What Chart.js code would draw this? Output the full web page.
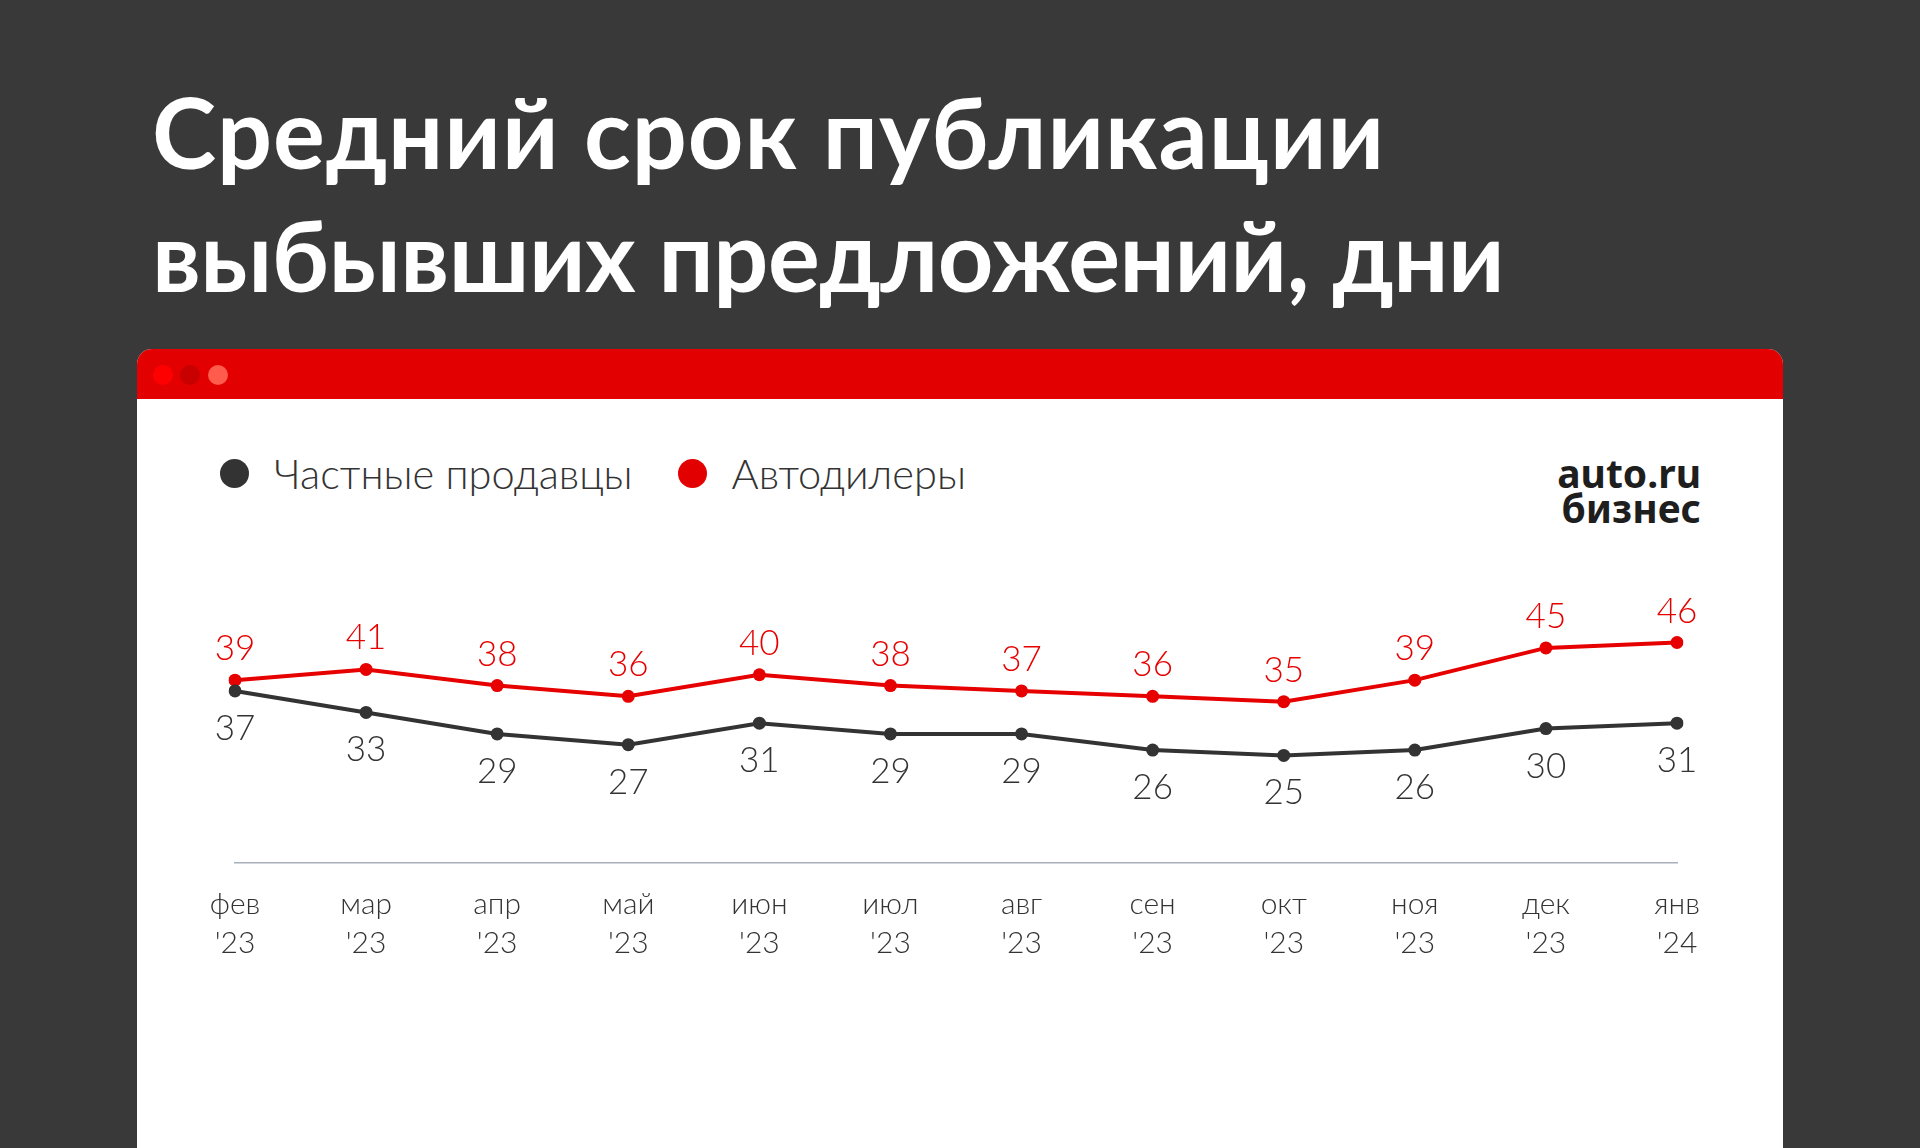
<!DOCTYPE html>
<html lang="ru">
<head>
<meta charset="utf-8">
<title>Средний срок публикации выбывших предложений, дни</title>
<script src="https://cdn.jsdelivr.net/npm/chart.js@4.4.1/dist/chart.umd.min.js"></script>
<style>
  html, body { margin: 0; padding: 0; }
  body {
    width: 1920px; height: 1148px; overflow: hidden; position: relative;
    background: #393939; font-family: Lato, "Noto Sans", sans-serif;
  }
  .title {
    position: absolute; left: 152px; top: 70px; margin: 0;
    color: #fff; font: 700 97px/123px Lato, sans-serif; white-space: nowrap;
  }
  .title span { display: block; }
  .card {
    position: absolute; left: 137px; top: 349px; width: 1646px; height: 820px;
    background: #fff; border-radius: 15px 15px 0 0; overflow: hidden;
  }
  .card .bar { height: 50px; background: #e30000; position: relative; }
  .card .bar i { position: absolute; top: 16px; width: 20px; height: 20px; border-radius: 50%; }
  .legend { position: absolute; top: 450px; left: 220px; display: flex; align-items: center;
    font: 300 41.6px/46px Lato, sans-serif; color: #333; }
  .legend span { display: flex; align-items: center; margin-right: 45px; }
  .legend b { display: inline-block; width: 29px; height: 29px; border-radius: 50%; margin-right: 25px; }
  .logo { position: absolute; right: 219px; top: 455px; text-align: right;
    font: 700 39px/35px "Noto Sans", sans-serif; color: #1e1e1e; }
  #wrap { position: absolute; left: 0; top: 0; width: 1920px; height: 1148px; }
</style>
</head>
<body>
<h1 class="title"><span style="letter-spacing:1px">Средний срок публикации</span><span style="letter-spacing:-0.4px">выбывших предложений, дни</span></h1>
<div class="card">
  <div class="bar">
    <i style="left:16px;background:#ff0000"></i>
    <i style="left:43px;background:#c90000"></i>
    <i style="left:71px;background:#ff5c4d"></i>
  </div>
</div>
<div class="legend">
  <span><b style="background:#333"></b>Частные продавцы</span>
  <span><b style="background:#e30000"></b>Автодилеры</span>
</div>
<div class="logo">auto.ru<br>бизнес</div>
<div id="wrap"><canvas id="chart"></canvas></div>

<script>
const months = ['фев', 'мар', 'апр', 'май', 'июн', 'июл', 'авг', 'сен', 'окт', 'ноя', 'дек', 'янв'];
const years = ["'23", "'23", "'23", "'23", "'23", "'23", "'23", "'23", "'23", "'23", "'23", "'24"];
const privateSellers = [37, 33, 29, 27, 31, 29, 29, 26, 25, 26, 30, 31];
const dealers = [39, 41, 38, 36, 40, 38, 37, 36, 35, 39, 45, 46];

const DARK = '#333333';
const RED = '#e60000';

// value labels: red above the point, dark below
const valueLabels = {
  id: 'valueLabels',
  afterDatasetsDraw(chart) {
    const ctx = chart.ctx;
    chart.data.datasets.forEach((ds, i) => {
      const meta = chart.getDatasetMeta(i);
      ctx.save();
      ctx.font = '300 35px Lato';
      ctx.fillStyle = ds.borderColor;
      ctx.textAlign = 'center';
      ctx.textBaseline = 'alphabetic';
      meta.data.forEach((pt, j) => {
        const dy = ds.labelAbove ? -20 : 49;
        ctx.fillText(ds.data[j], pt.x, pt.y + dy);
      });
      ctx.restore();
    });
  }
};

new Chart(document.getElementById('chart'), {
  type: 'line',
  data: {
    labels: months.map((m, i) => [m, years[i]]),
    datasets: [
      { label: 'Частные продавцы', data: privateSellers, borderColor: DARK, backgroundColor: DARK,
        pointBackgroundColor: DARK, labelAbove: false },
      { label: 'Автодилеры', data: dealers, borderColor: RED, backgroundColor: RED,
        pointBackgroundColor: RED, labelAbove: true }
    ]
  },
  options: {
    responsive: true, maintainAspectRatio: false, animation: false, devicePixelRatio: 1,
    layout: { padding: { left: 235, right: 243, top: 621, bottom: 185 } },
    elements: {
      line: { borderWidth: 4, tension: 0 },
      point: { radius: 6.5, borderWidth: 0, hoverRadius: 6.5 }
    },
    plugins: { legend: { display: false }, tooltip: { enabled: false } },
    scales: {
      x: {
        grid: { display: false, drawTicks: false },
        border: { display: true, color: '#a8b0b9', width: 1.5 },
        ticks: { color: DARK, font: { family: 'Lato', weight: 300, size: 30, lineHeight: 1.3 }, padding: 22, maxRotation: 0 },
        afterFit(scale) { scale.height = 100; }
      },
      y: { display: false, min: 5, max: 50 }
    }
  },
  plugins: [valueLabels]
});
</script>
</body>
</html>
